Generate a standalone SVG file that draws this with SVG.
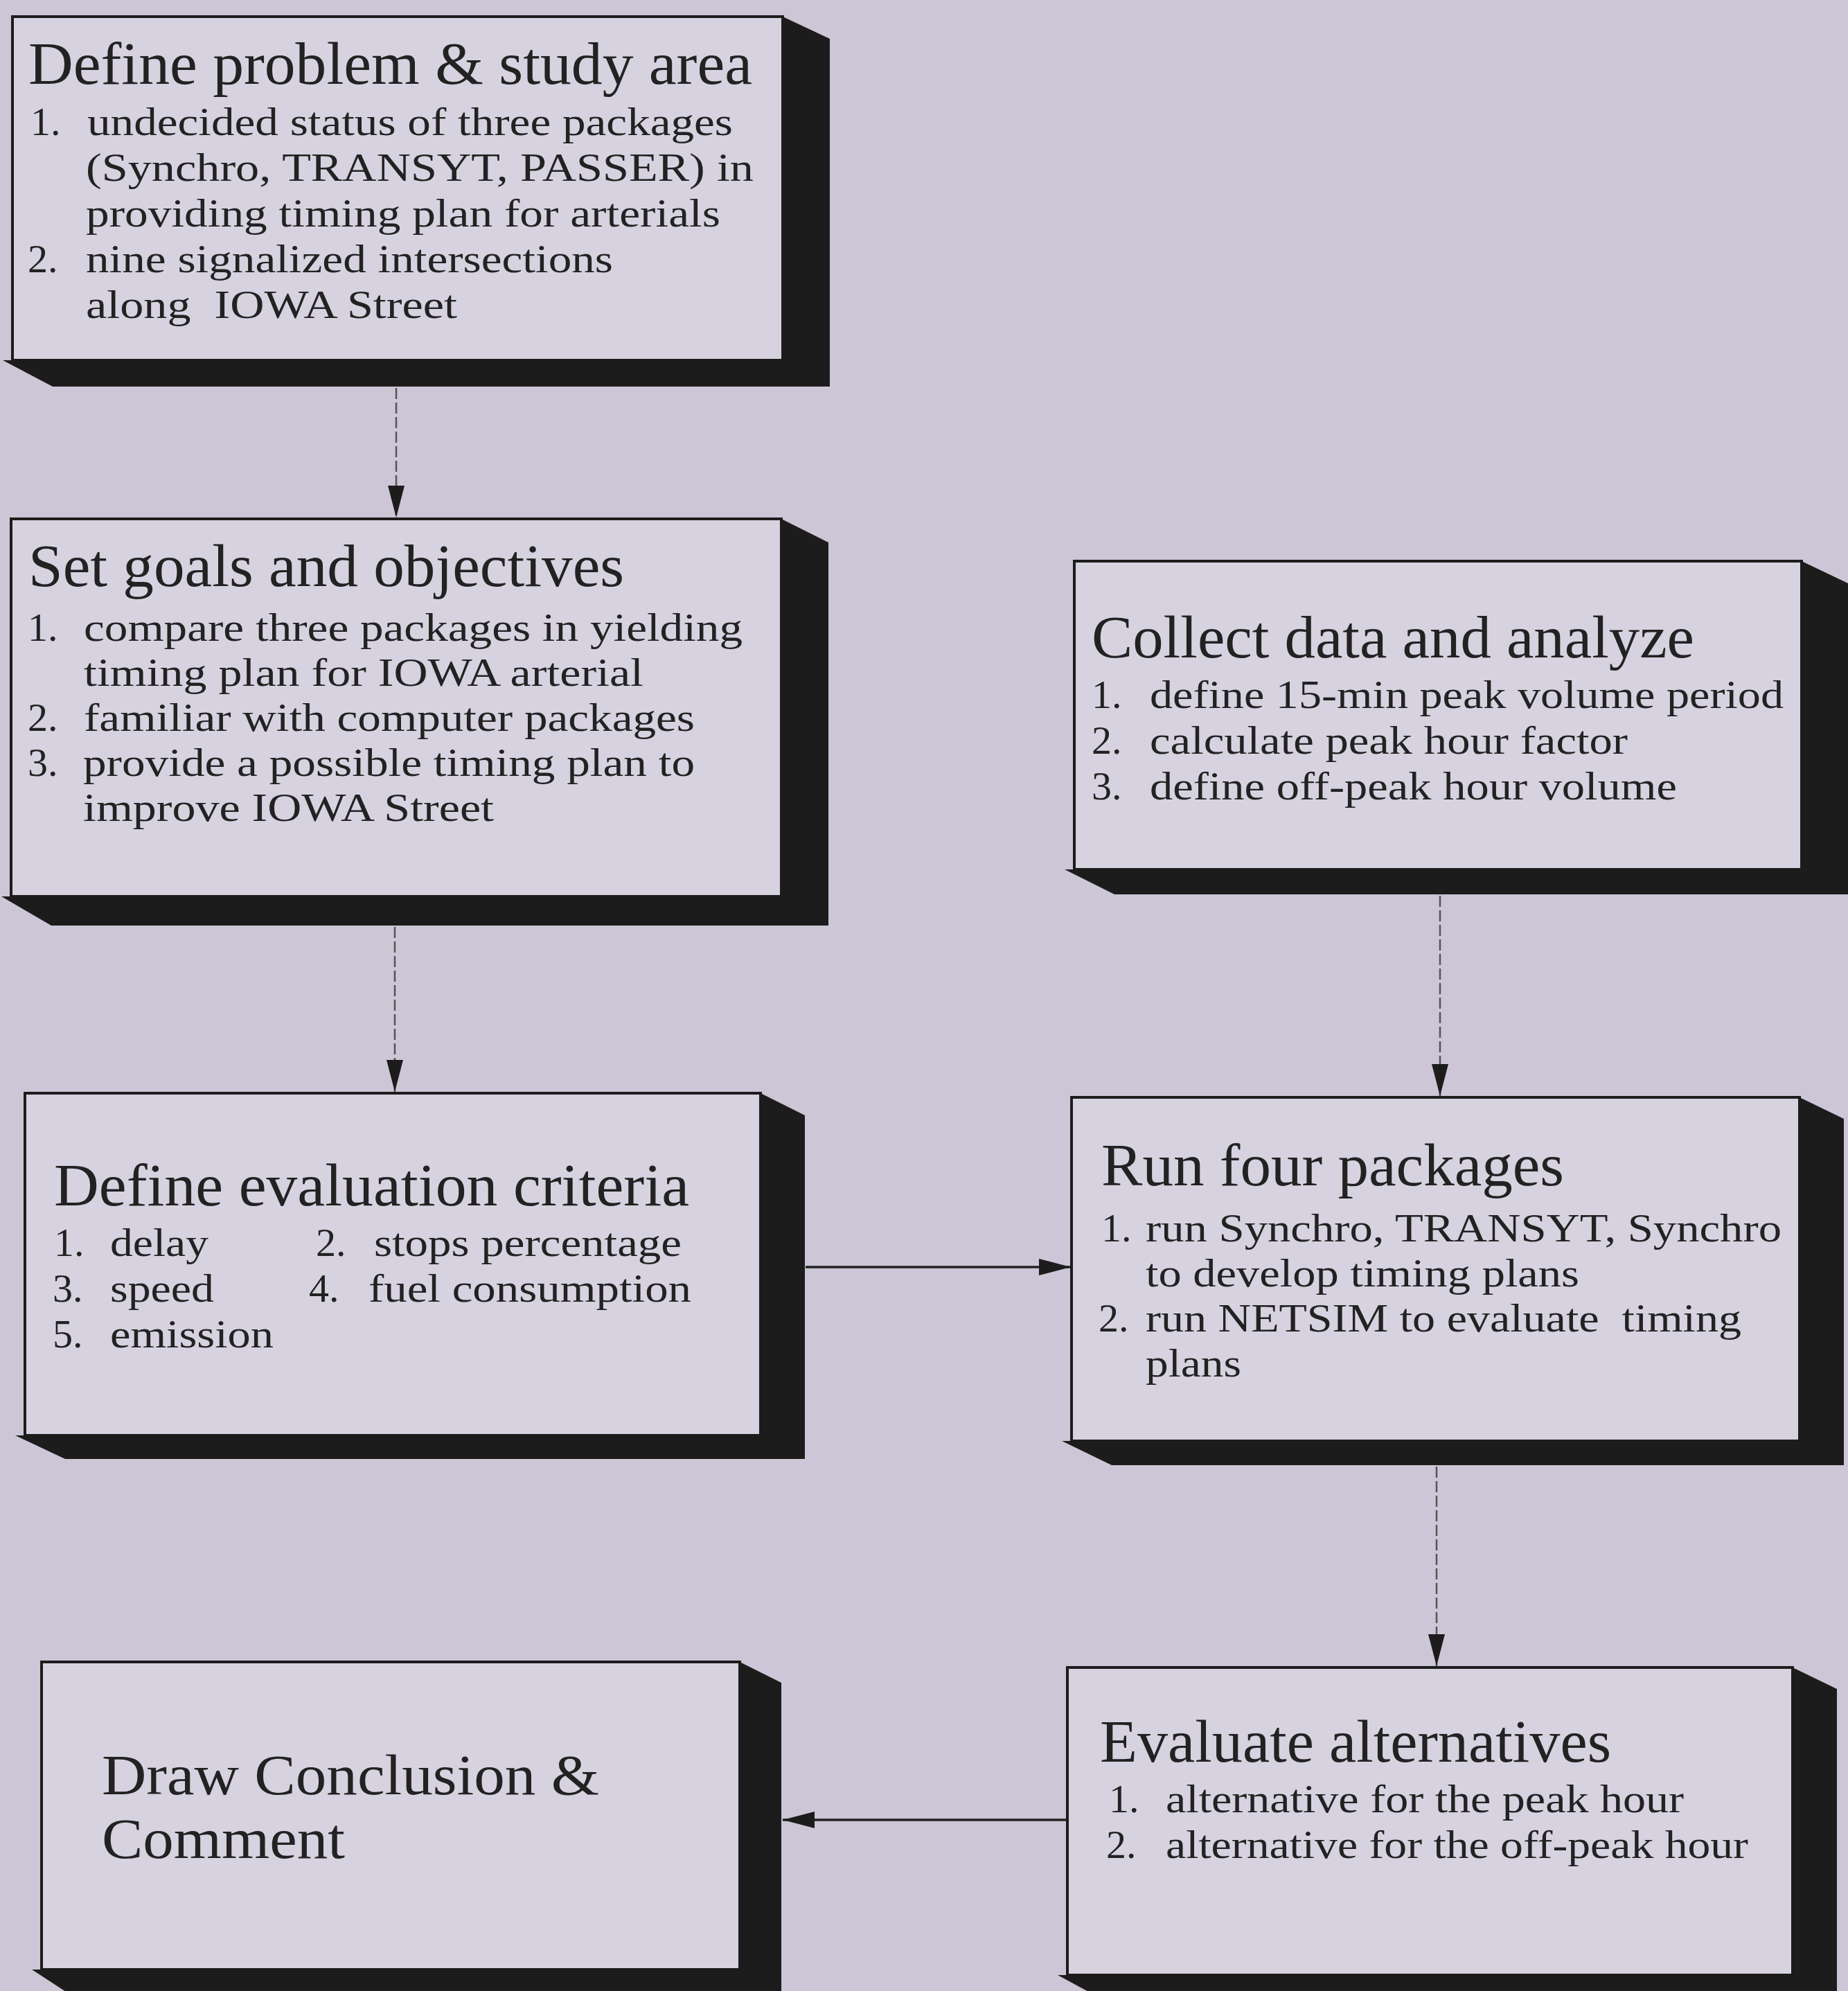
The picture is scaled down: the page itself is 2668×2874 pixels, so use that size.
<svg xmlns="http://www.w3.org/2000/svg" width="2668" height="2874" viewBox="0 0 2668 2874">
<defs>
<style>
.bg{fill:#CCC6D6}
.face{fill:#D7D2E0;stroke:#1c1c1c;stroke-width:4}
.ext{fill:#1c1c1c}
text{font-family:"Liberation Serif","Times New Roman",serif;fill:#222}
.t{font-size:86px}
.t2{font-size:82px}
.b{font-size:58px}
.vc{stroke:#555;stroke-width:2.5;fill:none;stroke-dasharray:16 5}
.hc{stroke:#222;stroke-width:3.5;fill:none}
</style>
<marker id="ah" markerUnits="userSpaceOnUse" markerWidth="46" markerHeight="24" refX="46" refY="12" orient="auto" viewBox="0 0 46 24">
<path d="M0,0 L46,12 L0,24 z" fill="#1c1c1c"/>
</marker>
</defs>
<rect class="bg" x="0" y="0" width="2668" height="2874"/>

<g id="connectors">
<line class="vc" x1="572" y1="560" x2="572" y2="747" marker-end="url(#ah)"/>
<line class="vc" x1="570" y1="1338" x2="570" y2="1576" marker-end="url(#ah)"/>
<line class="vc" x1="2079" y1="1293" x2="2079" y2="1582" marker-end="url(#ah)"/>
<line class="hc" x1="1163" y1="1829" x2="1546" y2="1829" marker-end="url(#ah)"/>
<line class="vc" x1="2074" y1="2117" x2="2074" y2="2405" marker-end="url(#ah)"/>
<line class="hc" x1="1540" y1="2627" x2="1130" y2="2627" marker-end="url(#ah)"/>
</g>

<g id="node-define-problem">
<polygon class="ext" points="1130,24 1198,56 1198,558 76,558 4,520 1130,520"/>
<rect class="face" x="18" y="24" width="1112" height="496"/>
<text class="t" x="41" y="121" textLength="1045" lengthAdjust="spacingAndGlyphs">Define problem &amp; study area</text>
<text class="b" x="44" y="195">1.</text>
<text class="b" x="126" y="195" textLength="932" lengthAdjust="spacingAndGlyphs">undecided status of three packages</text>
<text class="b" x="124" y="261" textLength="964" lengthAdjust="spacingAndGlyphs">(Synchro, TRANSYT, PASSER) in</text>
<text class="b" x="124" y="327" textLength="916" lengthAdjust="spacingAndGlyphs">providing timing plan for arterials</text>
<text class="b" x="40" y="393">2.</text>
<text class="b" x="124" y="393" textLength="761" lengthAdjust="spacingAndGlyphs">nine signalized intersections</text>
<text class="b" x="124" y="459" textLength="536" lengthAdjust="spacingAndGlyphs" xml:space="preserve">along  IOWA Street</text>
</g>

<g id="node-set-goals">
<polygon class="ext" points="1128,749 1196,783 1196,1336 74,1336 2,1294 1128,1294"/>
<rect class="face" x="16" y="749" width="1112" height="545"/>
<text class="t" x="41" y="846" textLength="860" lengthAdjust="spacingAndGlyphs">Set goals and objectives</text>
<text class="b" x="40" y="925">1.</text>
<text class="b" x="121" y="925" textLength="951" lengthAdjust="spacingAndGlyphs">compare three packages in yielding</text>
<text class="b" x="121" y="990" textLength="808" lengthAdjust="spacingAndGlyphs">timing plan for IOWA arterial</text>
<text class="b" x="40" y="1055">2.</text>
<text class="b" x="121" y="1055" textLength="882" lengthAdjust="spacingAndGlyphs">familiar with computer packages</text>
<text class="b" x="40" y="1120">3.</text>
<text class="b" x="120" y="1120" textLength="883" lengthAdjust="spacingAndGlyphs">provide a possible timing plan to</text>
<text class="b" x="120" y="1185" textLength="593" lengthAdjust="spacingAndGlyphs">improve IOWA Street</text>
</g>

<g id="node-collect-data">
<polygon class="ext" points="2601,810 2672,844 2672,1291 1609,1291 1537,1255 2601,1255"/>
<rect class="face" x="1551" y="810" width="1050" height="445"/>
<text class="t" x="1576" y="949" textLength="870" lengthAdjust="spacingAndGlyphs">Collect data and analyze</text>
<text class="b" x="1576" y="1022">1.</text>
<text class="b" x="1660" y="1022" textLength="915" lengthAdjust="spacingAndGlyphs">define 15-min peak volume period</text>
<text class="b" x="1576" y="1088">2.</text>
<text class="b" x="1660" y="1088" textLength="690" lengthAdjust="spacingAndGlyphs">calculate peak hour factor</text>
<text class="b" x="1576" y="1154">3.</text>
<text class="b" x="1660" y="1154" textLength="761" lengthAdjust="spacingAndGlyphs">define off-peak hour volume</text>
</g>

<g id="node-evaluation-criteria">
<polygon class="ext" points="1098,1578 1162,1610 1162,2106 94,2106 22,2072 1098,2072"/>
<rect class="face" x="36" y="1578" width="1062" height="494"/>
<text class="t" x="78" y="1740" textLength="917" lengthAdjust="spacingAndGlyphs">Define evaluation criteria</text>
<text class="b" x="78" y="1813">1.</text>
<text class="b" x="159" y="1813" textLength="142" lengthAdjust="spacingAndGlyphs">delay</text>
<text class="b" x="456" y="1813">2.</text>
<text class="b" x="540" y="1813" textLength="444" lengthAdjust="spacingAndGlyphs">stops percentage</text>
<text class="b" x="76" y="1879">3.</text>
<text class="b" x="159" y="1879" textLength="150" lengthAdjust="spacingAndGlyphs">speed</text>
<text class="b" x="446" y="1879">4.</text>
<text class="b" x="532" y="1879" textLength="466" lengthAdjust="spacingAndGlyphs">fuel consumption</text>
<text class="b" x="76" y="1945">5.</text>
<text class="b" x="159" y="1945" textLength="236" lengthAdjust="spacingAndGlyphs">emission</text>
</g>

<g id="node-run-packages">
<polygon class="ext" points="2598,1584 2662,1615 2662,2115 1605,2115 1533,2080 2598,2080"/>
<rect class="face" x="1547" y="1584" width="1051" height="496"/>
<text class="t" x="1590" y="1711" textLength="668" lengthAdjust="spacingAndGlyphs">Run four packages</text>
<text class="b" x="1590" y="1792">1.</text>
<text class="b" x="1654" y="1792" textLength="918" lengthAdjust="spacingAndGlyphs">run Synchro, TRANSYT, Synchro</text>
<text class="b" x="1654" y="1857" textLength="626" lengthAdjust="spacingAndGlyphs">to develop timing plans</text>
<text class="b" x="1586" y="1922">2.</text>
<text class="b" x="1654" y="1922" textLength="860" lengthAdjust="spacingAndGlyphs" xml:space="preserve">run NETSIM to evaluate  timing</text>
<text class="b" x="1654" y="1987" textLength="138" lengthAdjust="spacingAndGlyphs">plans</text>
</g>

<g id="node-draw-conclusion">
<polygon class="ext" points="1068,2399 1128,2429 1128,2890 118,2890 46,2843 1068,2843"/>
<rect class="face" x="60" y="2399" width="1008" height="444"/>
<text class="t2" x="147" y="2590" textLength="718" lengthAdjust="spacingAndGlyphs">Draw Conclusion &amp;</text>
<text class="t2" x="147" y="2682" textLength="351" lengthAdjust="spacingAndGlyphs">Comment</text>
</g>

<g id="node-evaluate-alternatives">
<polygon class="ext" points="2588,2407 2652,2438 2652,2890 1599,2890 1527,2851 2588,2851"/>
<rect class="face" x="1541" y="2407" width="1047" height="444"/>
<text class="t" x="1588" y="2543" textLength="738" lengthAdjust="spacingAndGlyphs">Evaluate alternatives</text>
<text class="b" x="1601" y="2616">1.</text>
<text class="b" x="1683" y="2616" textLength="748" lengthAdjust="spacingAndGlyphs">alternative for the peak hour</text>
<text class="b" x="1597" y="2682">2.</text>
<text class="b" x="1683" y="2682" textLength="841" lengthAdjust="spacingAndGlyphs">alternative for the off-peak hour</text>
</g>
</svg>
